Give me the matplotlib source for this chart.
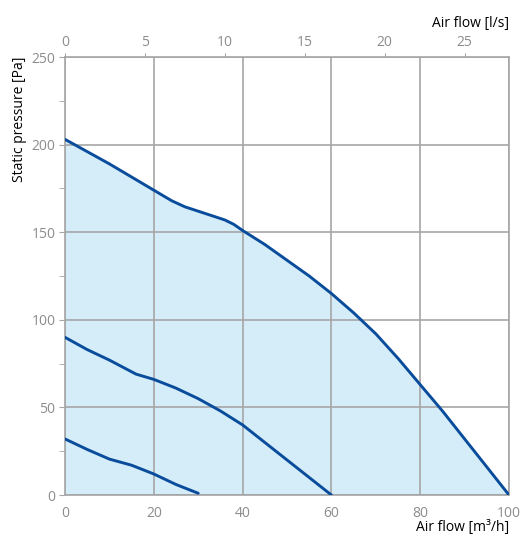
import numpy as np
import matplotlib.pyplot as plt
from matplotlib.ticker import MultipleLocator

plt.rcParams['font.family'] = ['Open Sans', 'DejaVu Sans']

# fan curves, air flow [m3/h] vs static pressure [Pa]
flow_max = [0, 10, 20, 24, 27, 30, 33, 36, 38, 40, 45, 50, 55, 60, 65, 70, 75, 80, 85, 90, 95, 100]
pres_max = [203, 189, 174, 168, 164.5, 162, 159.5, 157, 154.5, 151, 143, 134, 125, 115, 104, 92, 78, 63, 48, 32, 16, 0]

flow_mid = [0, 5, 10, 13, 16, 20, 25, 30, 35, 40, 45, 50, 55, 60]
pres_mid = [90, 83, 77, 73, 69, 66, 61, 55, 48, 40, 30, 20, 10, 0]

flow_min = [0, 5, 10, 15, 20, 25, 28, 30]
pres_min = [32, 26, 20.5, 17, 12, 6, 3, 1]

x_ticks = [0, 20, 40, 60, 80, 100]
y_ticks = [0, 50, 100, 150, 200, 250]
ls_ticks = [0, 5, 10, 15, 20, 25]

grey = '#a6a6a6'
tick_grey = '#8c8c8c'
blue = '#0a4c9c'
fill = '#d5edf9'

fig = plt.figure(figsize=(5.21, 5.39), dpi=100)
ax = fig.add_axes([0.1248, 0.0816, 0.8522, 0.8126])

ax.fill_between(flow_max, pres_max, 0, color=fill, lw=0, zorder=0)
for f, p in [(flow_max, pres_max), (flow_mid, pres_mid), (flow_min, pres_min)]:
    ax.plot(f, p, color=blue, lw=2.1, solid_capstyle='round', solid_joinstyle='round', zorder=3)

ax.set_xlim(0, 100)
ax.set_ylim(0, 250)
ax.set_xticks(x_ticks)
ax.set_yticks(y_ticks)
ax.yaxis.set_minor_locator(MultipleLocator(25))
ax.grid(True, which='major', color=grey, lw=1.2, zorder=1)
ax.set_axisbelow(True)
for s in ax.spines.values():
    s.set_color(grey)
    s.set_linewidth(1.2)

ax.tick_params(axis='x', length=0, pad=8, labelsize=10, labelcolor=tick_grey)
ax.tick_params(axis='y', which='major', length=4, color=grey, pad=3, labelsize=10, labelcolor=tick_grey)
ax.tick_params(axis='y', which='minor', length=4, color=grey)

ax.set_ylabel('Static pressure [Pa]', loc='top', fontsize=10)
ax.yaxis.set_label_coords(-0.085, 1.0)
ax.set_xlabel('Air flow [m³/h]', loc='right', fontsize=10)
ax.xaxis.set_label_coords(1.0, -0.057)

sec = ax.secondary_xaxis('top', functions=(lambda x: x / 3.6, lambda x: x * 3.6))
sec.set_xticks(ls_ticks)
sec.tick_params(length=3, color=grey, pad=2, labelsize=10, labelcolor=tick_grey)
sec.spines['top'].set_visible(False)
sec.set_xlabel('Air flow [l/s]', loc='right', fontsize=10, labelpad=6)

fig.savefig('out.png', dpi=100)
